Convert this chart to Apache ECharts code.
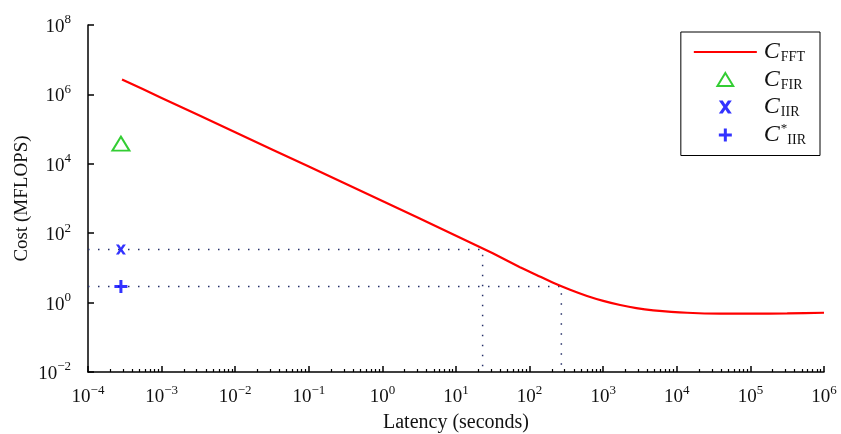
<!DOCTYPE html>
<html>
<head>
<meta charset="utf-8">
<script src="https://cdn.jsdelivr.net/npm/echarts@6/dist/echarts.min.js"></script>
<style>
  html, body { margin: 0; padding: 0; background: #fff; }
  #main { width: 841px; height: 434px; }
</style>
</head>
<body>
<div id="main"></div>
<script>
// FFT cost curve (latency in seconds, cost in MFLOPS)
const fftLatency = [2.9e-4, 1e-3, 1e-2, 0.1, 1, 10, 31.6, 74, 126, 209, 355, 603, 1000, 1700, 2820, 4790, 1.38e4, 3.9e4, 1e5, 3.16e5, 1e6];
const fftCost    = [2.7e6, 7.9e5, 8.1e4, 8.3e3, 850, 85, 26.3, 10.5, 6.17, 3.72, 2.34, 1.55, 1.12, 0.85, 0.69, 0.60, 0.51, 0.48, 0.48, 0.49, 0.51];

// single points at the smallest latency
const firPoint     = [2.8e-4, 3.8e4];
const iirPoint     = [2.8e-4, 34];
const iirStarPoint = [2.8e-4, 2.9];

// dotted guides: where the FFT curve meets the IIR costs
const guideLatency = [23, 270];
const guideCost    = [34, 2.9];

const xMin = 1e-4, xMax = 1e6;
const yMin = 1e-2, yMax = 1e8;

// log minor ticks for the x axis (2..9 of each decade)
const xMinorTicks = [];
for (let e = -4; e < 6; e++) {
    for (let k = 2; k <= 9; k++) xMinorTicks.push(k * Math.pow(10, e));
}

const serif = '"Liberation Serif", "DejaVu Serif", serif';
const blue = '#0000ff';
const green = '#00c000';

const triPath  = 'path://M8.5,0 L17,14 L0,14 Z';
const crossPath = 'path://M0,0 L3,0 L5,3 L7,0 L10,0 L6.5,5 L10,10 L7,10 L5,7 L3,10 L0,10 L3.5,5 Z';
const plusPath = 'path://M5,0 L8,0 L8,5 L13,5 L13,8 L8,8 L8,13 L5,13 L5,8 L0,8 L0,5 L5,5 Z';

function powLabel(v) {
    const e = Math.round(Math.log10(v));
    return '{b|10}{s|' + String(e).replace('-', '\u2212') + '}';
}
const powRich = {
    b: { fontFamily: serif, fontSize: 19, lineHeight: 23, verticalAlign: 'bottom', color: '#111' },
    s: { fontFamily: serif, fontSize: 13, lineHeight: 23, verticalAlign: 'top', color: '#111' }
};

const guideData = guideLatency.map((lat, i) => [[xMin, guideCost[i]], [lat, guideCost[i]], [lat, yMin]]);

const chart = echarts.init(document.getElementById('main'));
chart.setOption({
    animation: false,
    grid: { left: 88, right: 17, top: 25, bottom: 62, outerBoundsMode: 'none' },
    xAxis: [{
        type: 'log', logBase: 10, min: xMin, max: xMax, interval: 1,
        name: 'Latency (seconds)', nameLocation: 'middle', nameGap: 41,
        nameTextStyle: { fontFamily: serif, fontSize: 20, color: '#111' },
        axisLine: { lineStyle: { color: '#000', width: 1.5 } },
        axisTick: { inside: true, length: 6, lineStyle: { color: '#000', width: 1.5 } },
        axisLabel: { formatter: powLabel, rich: powRich, margin: 12 },
        splitLine: { show: false }
    }, {
        type: 'log', logBase: 10, min: xMin, max: xMax, position: 'bottom',
        axisLine: { show: false },
        axisTick: { inside: true, length: 3, customValues: xMinorTicks, lineStyle: { color: '#000', width: 1.2 } },
        axisLabel: { show: false },
        splitLine: { show: false }
    }],
    yAxis: {
        type: 'log', logBase: 10, min: yMin, max: yMax, interval: 2,
        name: 'Cost (MFLOPS)', nameLocation: 'middle', nameGap: 56, nameMoveOverlap: false,
        nameTextStyle: { fontFamily: serif, fontSize: 19, color: '#111' },
        axisLine: { lineStyle: { color: '#000', width: 1.5 } },
        axisTick: { inside: true, length: 6, lineStyle: { color: '#000', width: 1.5 } },
        axisLabel: { formatter: powLabel, rich: powRich, margin: 17 },
        splitLine: { show: false }
    },
    legend: {
        orient: 'vertical', right: 21, top: 32,
        backgroundColor: '#fff', borderColor: '#000', borderWidth: 1, borderRadius: 0,
        padding: [8, 14, 8, 12], itemGap: 3, itemWidth: 63, itemHeight: 13,
        data: [
            { name: 'FFT', itemStyle: { opacity: 0 } },
            { name: 'FIR', icon: triPath },
            { name: 'IIR', icon: crossPath },
            { name: 'IIR*', icon: plusPath }
        ],
        formatter: function (name) {
            if (name === 'IIR*') return '{c|C}{sup|*}{sub|IIR}';
            return '{c|C}{sub|' + name + '}';
        },
        textStyle: {
            rich: {
                c: { fontFamily: serif, fontStyle: 'italic', fontSize: 24, lineHeight: 25, color: '#111', padding: [0, 1, 0, 2] },
                sub: { fontFamily: serif, fontSize: 14, lineHeight: 25, verticalAlign: 'bottom', color: '#111' },
                sup: { fontFamily: serif, fontSize: 13, lineHeight: 25, verticalAlign: 'top', color: '#111' }
            }
        }
    },
    series: [
        {
            name: 'FFT', type: 'line', symbol: 'none', smooth: 0.2,
            data: fftLatency.map((x, i) => [x, fftCost[i]]),
            lineStyle: { color: '#ff0000', width: 2.2 }, itemStyle: { color: '#ff0000' }, z: 3
        },
        {
            name: 'FIR', type: 'scatter', symbol: triPath, symbolSize: [17, 14],
            data: [firPoint],
            itemStyle: { color: '#fff', borderColor: green, borderWidth: 2 }
        },
        {
            name: 'IIR', type: 'scatter', symbol: crossPath,
            symbolSize: 10, data: [iirPoint], itemStyle: { color: blue }, z: 4
        },
        {
            name: 'IIR*', type: 'scatter', symbol: plusPath,
            symbolSize: 13, data: [iirStarPoint], itemStyle: { color: blue }, z: 4
        }
    ].concat(guideData.map(d => ({
        type: 'line', symbol: 'none', data: d, silent: true, z: 1,
        lineStyle: { color: '#26306a', width: 1.5, type: [1.5, 8.5] }
    })))
});
</script>
</body>
</html>
